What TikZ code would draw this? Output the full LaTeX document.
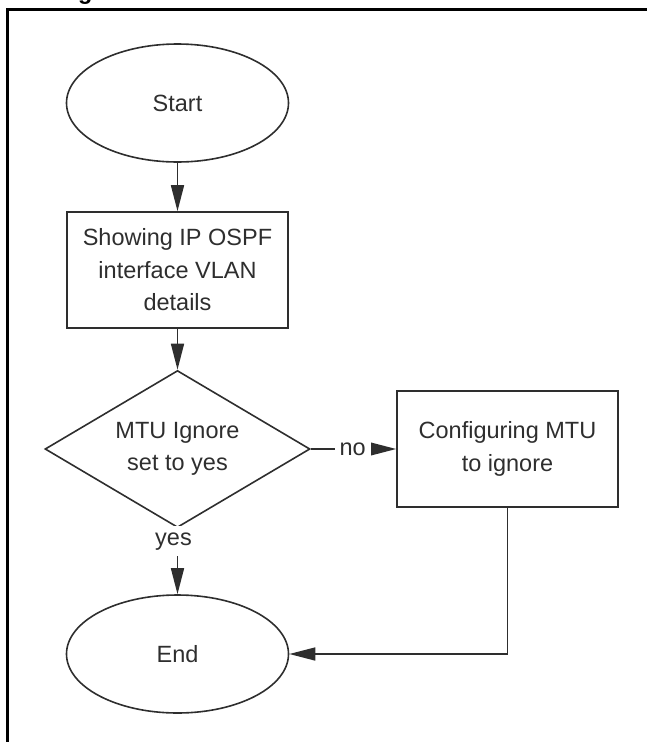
\documentclass[tikz,border=0pt]{standalone}
\usepackage{fontspec}
\setmainfont{Liberation Sans}
\usetikzlibrary{shapes.geometric,arrows.meta}
\definecolor{ink}{gray}{0.18}
\begin{document}
\begin{tikzpicture}[x=1pt,y=-1pt,
  every node/.style={font=\fontsize{23.5}{32.5}\selectfont, text=ink, align=center, inner sep=0pt},
  term/.style={draw=ink, line width=1.6pt, ellipse, minimum width=222pt, minimum height=118pt},
  procbox/.style={draw=ink, line width=1.6pt, rectangle, minimum width=221pt, minimum height=116pt},
  decision/.style={draw=ink, line width=1.6pt, diamond, aspect=1.69, minimum width=265pt, minimum height=157pt},
  conn/.style={draw=ink, line width=1.6pt},
  arr/.style={conn, -{Triangle[length=26pt,width=13pt]}},
  lbl/.style={fill=white, inner xsep=5pt, inner ysep=4pt}
]
\useasboundingbox (0,0) rectangle (647,742);
% frame (top and left edges)
\draw[line width=3pt, line join=miter] (647,9.5) -- (7.5,9.5) -- (7.5,742);
% cut-off caption glyph
\begin{scope}
\clip (0,0) rectangle (647,742);
\node[anchor=base west, font=\fontsize{23.5}{28}\selectfont\bfseries, text=black] (cap) at (78,-1) {g};
\end{scope}

\node[term] (start) at (177.5,103) {Start};
\node[procbox] (show) at (177.5,270) {Showing IP OSPF\\interface VLAN\\details};
\node[decision] (mtu) at (177.5,449) {MTU Ignore\\set to yes};
\node[procbox] (conf) at (507.5,449) {Configuring MTU\\to ignore};
\node[term] (end) at (177.5,654) {End};

\draw[arr] (start) -- (show);
\draw[arr] (show) -- (mtu);
\draw[arr] (mtu.east) -- node[lbl, pos=0.49] {no} (conf.west);
\draw[arr] (mtu.south) -- node[lbl, pos=0.2, xshift=-4pt, minimum height=30pt] {yes} (end.north);
\draw[arr] (conf.south) |- (end.east);
\end{tikzpicture}
\end{document}
